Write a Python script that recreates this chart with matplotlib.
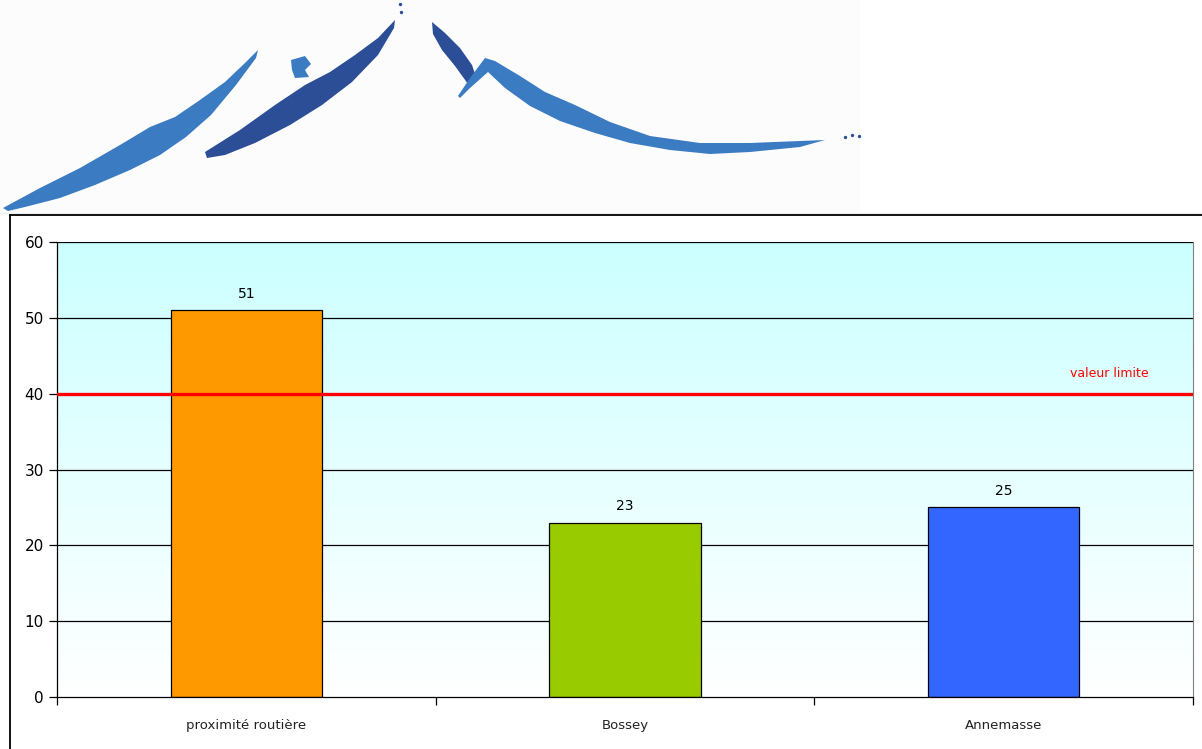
import numpy as np
import matplotlib.pyplot as plt
from matplotlib.patches import Polygon, Rectangle
from matplotlib.colors import LinearSegmentedColormap

# Données : concentration moyenne par site
sites = ['proximité routière', 'Bossey', 'Annemasse']
valeurs = [51, 23, 25]
couleurs = ['#FF9900', '#99CC00', '#3366FF']
valeur_limite = 40
graduations = [0, 10, 20, 30, 40, 50, 60]

fig = plt.figure(figsize=(12.02, 7.49), dpi=100)
fig.patch.set_facecolor('white')

# Bandeau du logo (montagnes au pinceau), en coordonnées pixels
logo = fig.add_axes([0, 0, 1, 1])
logo.set_xlim(0, 1202)
logo.set_ylim(749, 0)
logo.axis('off')
logo.add_patch(Rectangle((0, 0), 860, 212, color='#FCFCFC', lw=0))
logo.plot([0, 1202], [213, 213], color='#EEEEEE', lw=1)

clair = '#3A7BC2'
fonce = '#2B4E96'
traits = [
    (clair, [(3, 208), (40, 188), (80, 168), (120, 145), (150, 127), (175, 117),
             (200, 100), (225, 82), (245, 63), (258, 50), (256, 58), (236, 85),
             (211, 115), (186, 137), (160, 155), (130, 170), (95, 185), (60, 198),
             (25, 207), (8, 211)]),
    (clair, [(291, 60), (305, 56), (311, 64), (305, 70), (309, 77), (295, 78), (292, 70)]),
    (fonce, [(205, 152), (240, 130), (275, 105), (305, 85), (330, 72), (355, 55),
             (378, 38), (395, 20), (394, 28), (378, 55), (352, 82), (322, 105),
             (290, 125), (255, 143), (225, 155), (207, 158)]),
    (fonce, [(432, 22), (445, 33), (460, 48), (472, 65), (477, 80), (468, 84),
             (455, 66), (442, 50), (433, 34)]),
    (clair, [(458, 96), (470, 78), (485, 58), (495, 61), (520, 76), (545, 92),
             (575, 105), (610, 122), (650, 136), (700, 143), (750, 143), (800, 141),
             (825, 140), (800, 147), (750, 152), (710, 154), (670, 150), (630, 143),
             (595, 133), (560, 121), (530, 106), (505, 88), (488, 72), (470, 88),
             (460, 98)]),
]
for couleur, pts in traits:
    logo.add_patch(Polygon(pts, closed=True, color=couleur, lw=0))
logo.scatter([845, 852, 859, 400, 401], [137, 135, 136, 4, 12], s=2, color=fonce)

# Cadre extérieur du graphique
logo.plot([10, 1202], [215, 215], color='black', lw=1.3)
logo.plot([10, 10], [215, 749], color='black', lw=1.3)

# Zone de tracé
ax = fig.add_axes([57 / 1202, 52 / 749, 1136 / 1202, 455 / 749])
x = np.arange(len(sites))
ax.set_xlim(-0.5, len(sites) - 0.5)
ax.set_ylim(0, 60)

# Fond dégradé cyan -> blanc
degrade = LinearSegmentedColormap.from_list('fond', ['#FFFFFF', '#CCFFFF'])
ax.imshow(np.linspace(0, 1, 256).reshape(-1, 1), cmap=degrade, origin='lower',
          extent=[-0.5, len(sites) - 0.5, 0, 60], aspect='auto', zorder=0)

for g in graduations[1:]:
    ax.axhline(g, color='black', lw=0.9, zorder=1)

barres = ax.bar(x, valeurs, width=0.4, color=couleurs, edgecolor='black', lw=0.9, zorder=2)
for b, v in zip(barres, valeurs):
    ax.annotate(str(v), (b.get_x() + b.get_width() / 2, v), xytext=(0, 7),
                textcoords='offset points', ha='center', va='bottom', fontsize=10)

ax.axhline(valeur_limite, color='#FF0000', lw=2.4, zorder=3)
ax.text(2.28, valeur_limite + 2.7, 'valeur limite', color='#FF0000', fontsize=9,
        ha='center', va='center')

ax.set_yticks(graduations)
ax.tick_params(axis='y', direction='out', length=6, labelsize=11, width=0.9)
ax.set_xticks(x)
ax.set_xticklabels(sites, fontsize=9.5, color='#222222')
ax.set_xticks(np.arange(-0.5, len(sites)), minor=True)
ax.tick_params(axis='x', which='major', length=0, pad=16)
ax.tick_params(axis='x', which='minor', direction='out', length=6, width=0.9)

ax.spines['top'].set_visible(False)
ax.spines['right'].set_color('#808080')
ax.spines['left'].set_linewidth(0.9)
ax.spines['bottom'].set_linewidth(0.9)

fig.savefig('out.png', dpi=100)
